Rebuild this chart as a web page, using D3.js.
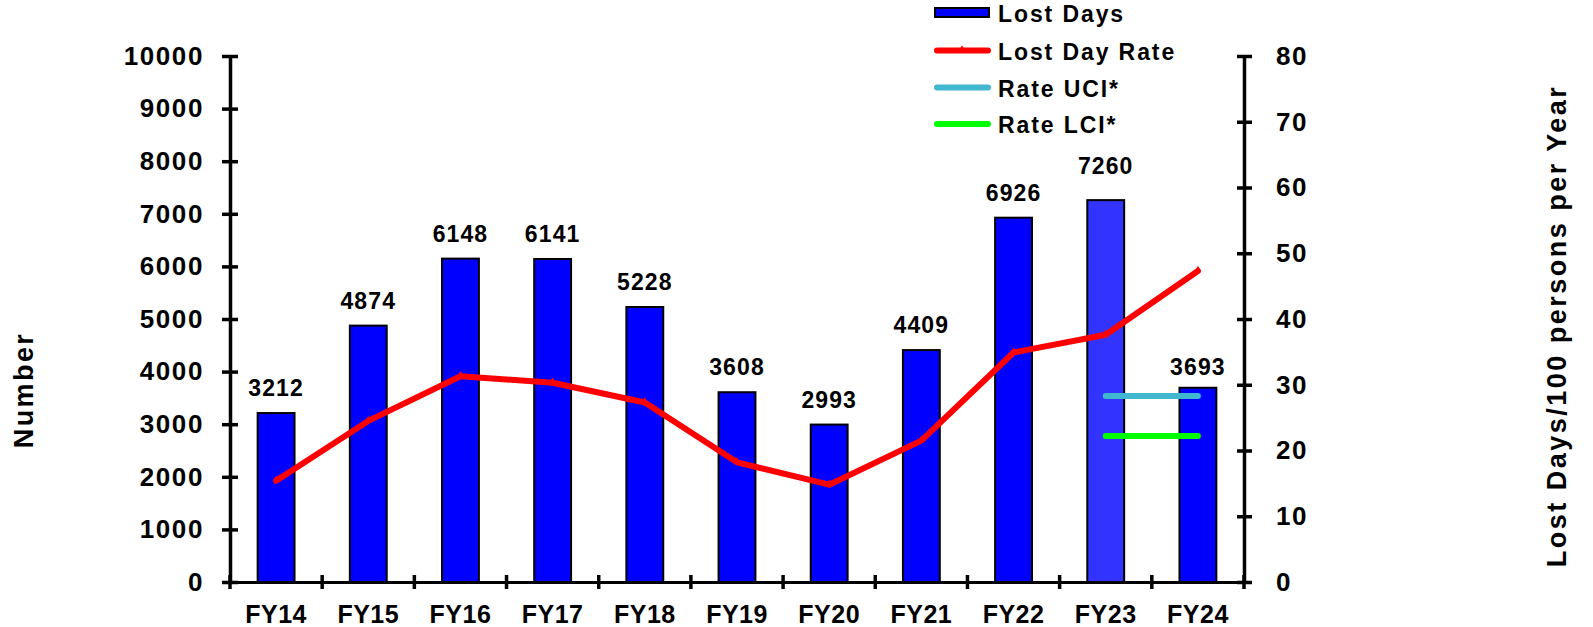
<!DOCTYPE html>
<html>
<head>
<meta charset="utf-8">
<script src="https://cdn.jsdelivr.net/npm/d3@7"></script>
<style>
  html, body { margin: 0; padding: 0; background: #fff; }
  text { font-family: "Liberation Sans", Arial, sans-serif; font-weight: bold; fill: #000; }
</style>
</head>
<body>
<svg id="chart" width="1593" height="627"></svg>
<script>
// ---- data ----
const categories = ["FY14","FY15","FY16","FY17","FY18","FY19","FY20","FY21","FY22","FY23","FY24"];
const lostDays = [3212, 4874, 6148, 6141, 5228, 3608, 2993, 4409, 6926, 7260, 3693];
const lostDayRate = [15.4, 24.5, 31.3, 30.3, 27.3, 18.2, 14.8, 21.5, 34.9, 37.6, 47.3];
const rateUCI = [28.3, 28.3];
const rateLCI = [22.2, 22.2];
const ciCategories = ["FY23", "FY24"];
const leftTicks = [0,1000,2000,3000,4000,5000,6000,7000,8000,9000,10000];
const rightTicks = [0,10,20,30,40,50,60,70,80];
const legendLabels = ["Lost Days", "Lost Day Rate", "Rate UCI*", "Rate LCI*"];

// ---- layout ----
const svg = d3.select("#chart");
const plotLeft = 230, plotRight = 1244, plotTop = 56, plotBottom = 582;
const blue = "#0000ff", lightBlue = "#3333ff", red = "#ff0000", uciColor = "#41b8cf", lciColor = "#00ff00";

const x = d3.scaleBand().domain(categories).range([plotLeft, plotRight]).paddingInner(0.6).paddingOuter(0.3);
const yL = d3.scaleLinear().domain([0, 10000]).range([plotBottom, plotTop]);
const yR = d3.scaleLinear().domain([0, 80]).range([plotBottom, plotTop]);
const half = x.step() * x.paddingInner() / 2;
const cx = c => x(c) + x.bandwidth() / 2;

// bars
svg.append("g").selectAll("rect").data(categories).join("rect")
  .attr("x", c => x(c))
  .attr("y", (c, i) => yL(lostDays[i]))
  .attr("width", x.bandwidth())
  .attr("height", (c, i) => plotBottom - yL(lostDays[i]))
  .attr("fill", c => c === "FY23" ? lightBlue : blue)
  .attr("stroke", "#000").attr("stroke-width", 2);

// bar labels
const labelGap = {FY23: 26, FY24: 13};
svg.append("g").selectAll("text").data(categories).join("text")
  .attr("x", c => cx(c))
  .attr("y", (c, i) => yL(lostDays[i]) - (labelGap[c] !== undefined ? labelGap[c] : 17))
  .attr("text-anchor", "middle")
  .style("font-size", "23px").style("letter-spacing", "1.1px")
  .text((c, i) => lostDays[i]);

// rate line
const line = d3.line().x(d => cx(d[0])).y(d => yR(d[1]));
svg.append("path")
  .datum(categories.map((c, i) => [c, lostDayRate[i]]))
  .attr("d", line).attr("fill", "none").attr("stroke", red)
  .attr("stroke-width", 6).attr("stroke-linecap", "round").attr("stroke-linejoin", "round");
svg.append("g").selectAll("path").data(categories).join("path")
  .attr("d", d3.symbol(d3.symbolTriangle, 14))
  .attr("transform", (c, i) => `translate(${cx(c)},${yR(lostDayRate[i]) - 2})`)
  .attr("fill", red);

// CI lines
[[rateUCI, uciColor], [rateLCI, lciColor]].forEach(([vals, col]) => {
  svg.append("path")
    .datum(ciCategories.map((c, i) => [c, vals[i]]))
    .attr("d", line).attr("fill", "none").attr("stroke", col)
    .attr("stroke-width", 6).attr("stroke-linecap", "round");
});

// left axis
const axL = svg.append("g").attr("transform", `translate(${plotLeft},0)`)
  .call(d3.axisLeft(yL).tickValues(leftTicks).tickSize(8).tickSizeOuter(0).tickPadding(18).tickFormat(d3.format("d")));
axL.select(".domain").attr("stroke", "#000").attr("stroke-width", 3.5);
axL.selectAll(".tick line").attr("x1", -8).attr("x2", 8).attr("stroke-width", 3.5);
axL.selectAll(".tick text").style("font-size", "26px").style("letter-spacing", "1.6px")
  .style("font-family", "'Liberation Sans', Arial, sans-serif").style("font-weight", "bold").attr("fill", "#000");

// right axis
const axR = svg.append("g").attr("transform", `translate(${plotRight},0)`)
  .call(d3.axisRight(yR).tickValues(rightTicks).tickSize(8).tickSizeOuter(0).tickPadding(24));
axR.select(".domain").attr("stroke", "#000").attr("stroke-width", 3.5);
axR.selectAll(".tick line").attr("x1", -7).attr("x2", 8).attr("stroke-width", 3.5);
axR.selectAll(".tick text").style("font-size", "26px").style("letter-spacing", "1.6px")
  .style("font-family", "'Liberation Sans', Arial, sans-serif").style("font-weight", "bold").attr("fill", "#000");

// bottom axis
const axB = svg.append("g").attr("transform", `translate(0,${plotBottom})`)
  .call(d3.axisBottom(x).tickSize(0).tickSizeOuter(0).tickPadding(22));
axB.select(".domain").attr("stroke", "#000").attr("stroke-width", 3);
axB.selectAll(".tick text").style("font-size", "25px").style("letter-spacing", "0.5px")
  .style("font-family", "'Liberation Sans', Arial, sans-serif").style("font-weight", "bold").attr("fill", "#000")
  .attr("dy", "0.75em");
svg.append("g").selectAll("line").data(categories.concat(["end"])).join("line")
  .attr("x1", (c, i) => i < categories.length ? x(c) - half : plotRight)
  .attr("x2", (c, i) => i < categories.length ? x(c) - half : plotRight)
  .attr("y1", plotBottom - 7).attr("y2", plotBottom + 7)
  .attr("stroke", "#000").attr("stroke-width", 3.5);

// axis titles
svg.append("text").attr("transform", "translate(33,390) rotate(-90)")
  .attr("text-anchor", "middle").style("font-size", "27px").style("letter-spacing", "2.4px")
  .text("Number");
svg.append("text").attr("transform", "translate(1566,326) rotate(-90)")
  .attr("text-anchor", "middle").style("font-size", "27px").style("letter-spacing", "2.5px")
  .text("Lost Days/100 persons per Year");

// legend
const lg = svg.append("g");
const rowY = [12.5, 50.5, 87.5, 124];
lg.append("rect").attr("x", 935).attr("y", 8).attr("width", 54).attr("height", 9)
  .attr("fill", blue).attr("stroke", "#000").attr("stroke-width", 2);
[[red, 1], [uciColor, 2], [lciColor, 3]].forEach(([col, r]) => {
  lg.append("line").attr("x1", 937).attr("x2", 988).attr("y1", rowY[r]).attr("y2", rowY[r])
    .attr("stroke", col).attr("stroke-width", 6).attr("stroke-linecap", "round");
});
lg.append("path").attr("d", d3.symbol(d3.symbolTriangle, 14))
  .attr("transform", `translate(962,${rowY[1] - 2})`).attr("fill", red);
lg.selectAll("text").data(legendLabels).join("text")
  .attr("x", 998).attr("y", (d, i) => rowY[i] + 9)
  .style("font-size", "23px").style("letter-spacing", "1.9px")
  .text(d => d);
</script>
</body>
</html>
